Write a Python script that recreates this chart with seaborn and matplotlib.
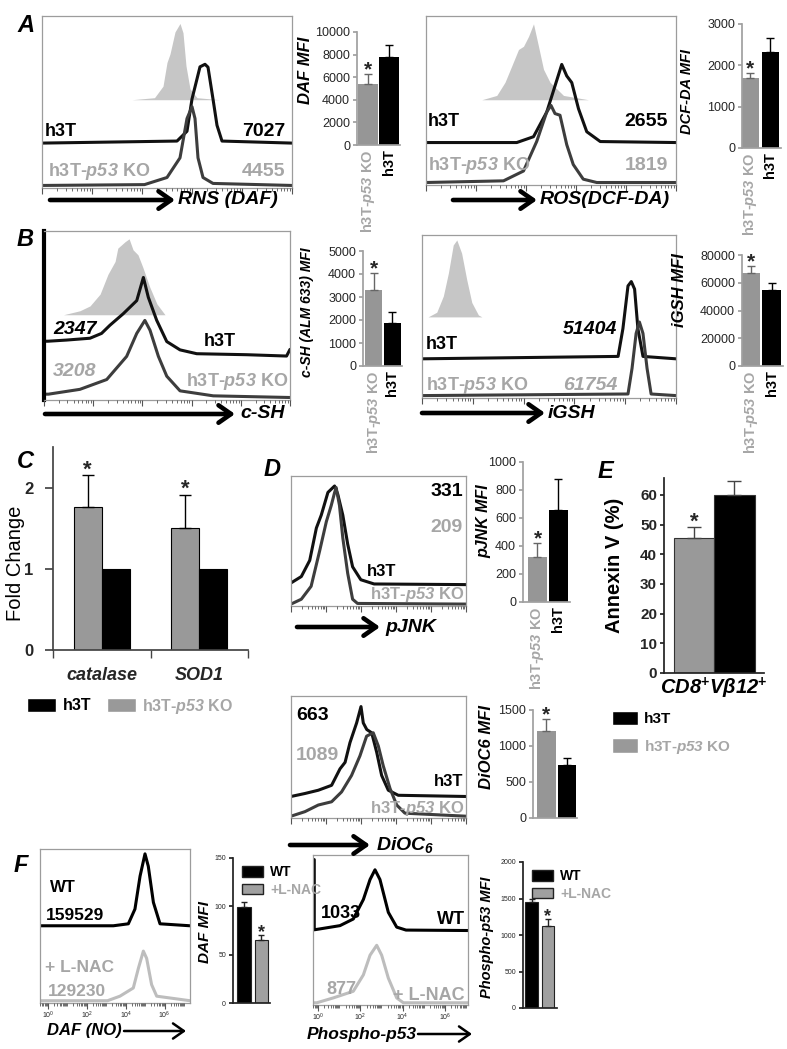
import numpy as np
import pandas as pd
import matplotlib.pyplot as plt
import seaborn as sns
from matplotlib.patches import FancyArrowPatch, Patch
from matplotlib.ticker import LogLocator, NullFormatter, LogFormatterMathtext

# -----------------------------
# Data
# -----------------------------
ko_label = r'h3T-$\mathbfit{p53}$ KO'
pair = [ko_label, 'h3T']

# MFI bar charts: mean and top of the error bar, order = [p53 KO, h3T]
daf_mfi, daf_top = [5370, 7760], [6280, 8850]
dcf_mfi, dcf_top = [1700, 2330], [1820, 2650]
csh_mfi, csh_top = [3300, 1860], [4030, 2360]
igsh_mfi, igsh_top = [66800, 54800], [72000, 60000]
pjnk_mfi, pjnk_top = [324, 657], [419, 876]
dioc_mfi, dioc_top = [1213, 736], [1371, 829]

# panel C
genes = ['catalase', 'SOD1']
fold_ko = [1.76, 1.50]
fold_ko_top = [2.15, 1.91]
fold_h3t = [1.0, 1.0]

# panel E
annexin = [45.4, 60.0]
annexin_top = [49.3, 64.8]

# panel F bars, order = [WT, +L-NAC]
nac_groups = ['WT', '+L-NAC']
daf_nac, daf_nac_top = [99, 65.5], [105, 70]
pp53_nac, pp53_nac_top = [1448, 1127], [1489, 1215]

# log axis decades labelled under the panel F histograms
decade_ticks = [1, 1e2, 1e4, 1e6]

# histogram traces: x = place on the log axis (% of box), y = height (% of box)
rns_iso_x = [36, 45, 48.4, 50, 51.2, 53.2, 55.2, 56.4, 57.6, 59.2, 62, 71]
rns_iso_y = [0, 1.2, 8, 22, 27, 40, 45, 39.5, 20, 6.4, 1.2, 0]
rns_h3t_x = [0, 54, 58, 60, 63.2, 65.2, 66.4, 68.4, 70, 72, 100]
rns_h3t_y = [0, 1.2, 7, 26, 45, 46.5, 44.8, 26, 10.5, 1.2, 0]
rns_ko_x = [0, 41, 50, 55.2, 58, 60, 61.2, 62.4, 64.4, 68.4, 100]
rns_ko_y = [0, 0.5, 4.7, 16.3, 39.5, 46.5, 39.5, 16.3, 4.7, 1.2, 0]

ros_iso_x = [22.3, 28.3, 31.6, 34.3, 37, 39, 41, 43, 45, 47, 49.6, 55, 65]
ros_iso_y = [0, 2.6, 10.5, 20.3, 30.2, 32.1, 38, 45.6, 32.1, 18.3, 10.5, 2.6, 0]
ros_h3t_x = [0, 36.3, 43, 48.3, 51.6, 54.3, 56.3, 58.3, 61, 64.3, 69.7, 100]
ros_h3t_y = [0, 0, 3.5, 18.3, 34, 46.9, 40, 36, 20.3, 6.5, 0.6, 0]
ros_ko_x = [0, 31, 39, 44.3, 48.3, 50, 51.6, 53.6, 56.3, 58.9, 62.9, 68.3, 100]
ros_ko_y = [0, 1, 6.9, 24.7, 42.4, 46.3, 41.4, 40.4, 22.7, 10.8, 2, 0, 0]

csh_iso_x = [7.9, 14.6, 18.7, 22.8, 26, 28.9, 30, 32.9, 34.6, 36.2, 38.2, 40.2, 43, 45.9, 49.2]
csh_iso_y = [0, 2.4, 5.3, 12.4, 24.3, 32, 40, 43.8, 45.6, 39, 36, 28.4, 16.6, 6.5, 0]
csh_h3t_x = [0.5, 1.6, 9.2, 18.7, 23.4, 26.8, 32.2, 37.7, 40.4, 42.4, 45.8, 49.9, 55.3, 62.1, 82.4, 98.6, 100]
csh_h3t_y = [8.9, 8.9, 9.6, 10.7, 13.6, 18.5, 25.4, 33.3, 47.2, 35.3, 21.5, 8.7, 3.7, 1.4, 0.8, 0, 4]
csh_ko_x = [0.5, 1.8, 14.6, 25.5, 33.6, 37.7, 41, 43.1, 46.5, 49.9, 55.3, 68.8, 100]
csh_ko_y = [2, 2, 4.9, 10.8, 24.7, 38.5, 46.3, 40.4, 24.7, 12.8, 4, 1, 0]

igsh_iso_x = [2.4, 5.8, 8.4, 10.4, 12.3, 13.7, 15.6, 17.6, 19.6, 22.2, 23.6]
igsh_iso_y = [0, 2.9, 13, 27.4, 44.8, 47.9, 39.7, 23.3, 9, 1.2, 0]
igsh_h3t_x = [0, 77.2, 79.1, 81.1, 82.4, 83.7, 85, 87, 100]
igsh_h3t_y = [0, 1.5, 18.8, 45.4, 48.1, 43.4, 18.8, 1.5, 0]
igsh_ko_x = [0, 81.1, 82.7, 84.3, 85.6, 87, 88.6, 90.2, 100]
igsh_ko_y = [0, 1, 17, 38.7, 45.8, 38.7, 17, 1, 0]

pjnk_h3t_x = [0, 5.9, 10.7, 14.5, 17.3, 21.1, 23, 24.9, 26.7, 29.6, 32.4, 35.2, 39.9, 47.5, 100]
pjnk_h3t_y = [1.3, 6.3, 18.9, 44.2, 54.3, 72, 74.5, 77, 70.7, 54.3, 31.6, 13.9, 3.8, 0.5, 0]
pjnk_ko_x = [0, 5.9, 11.5, 16.4, 20.2, 23, 24.9, 25.8, 27.7, 29.6, 32.4, 35.2, 38, 100]
pjnk_ko_y = [0, 3.8, 13.9, 41.7, 64.4, 77, 87, 91, 77, 51.7, 24, 3.8, 0.5, 0]

dioc_h3t_x = [0, 8, 15.6, 23.2, 28, 30.9, 33.7, 37.5, 40, 41.3, 43.3, 46.1, 49, 51.8, 55.6, 61.3, 100]
dioc_h3t_y = [0, 2.5, 5.2, 9.3, 23, 28.4, 44.8, 61.2, 74.8, 61.2, 55.7, 53, 36.6, 17.5, 5.2, 1, 0]
dioc_ko_x = [0, 8, 15.6, 23.2, 28.9, 34.6, 39.4, 43.2, 47, 49.9, 52.7, 56.6, 60.4, 65.1, 100]
dioc_ko_y = [0, 3.8, 9.3, 12, 20.2, 33.9, 50.2, 66.6, 69.4, 58.4, 42, 23, 9.3, 2.5, 0]

fdaf_wt_x = [0, 48.9, 58.9, 63.3, 66.7, 70, 72.2, 75.6, 80, 100]
fdaf_wt_y = [0, 0, 1.3, 11, 32.7, 47.4, 39.2, 15.4, 1.3, 0]
fdaf_nac_x = [0, 45, 53.3, 62.2, 65.6, 68.9, 71.1, 74.4, 77.8, 100]
fdaf_nac_y = [0, 0, 3, 8.4, 21.4, 32.7, 27.9, 10.6, 3, 0]

fp53_wt_x = [0.8, 0.8, 4.5, 17.4, 26, 32.5, 36.8, 40, 43.2, 48.6, 54, 60, 100]
fp53_wt_y = [48, 0.5, 1.1, 3.3, 7.8, 21, 34.5, 41.1, 34.5, 12.3, 2.3, 0.3, 0]
fp53_nac_x = [0, 2.4, 13.1, 26, 32.5, 36.8, 41.1, 44.3, 48.6, 54, 58.3, 100]
fp53_nac_y = [0, 0, 3.3, 7.8, 18.9, 32.2, 38.9, 32.2, 16.7, 3.3, 0, 0]

# -----------------------------
# Style
# -----------------------------
W, H = 787, 1049
GRAY_TXT = '#a6a6a6'
BAR_GRAY = '#969696'
ISO = '#c6c6c6'
KO_LINE = '#3d3d3d'

sns.set_theme(style='white')
plt.rcParams['font.family'] = ['Liberation Sans', 'DejaVu Sans']
plt.rcParams.update({
    'mathtext.fontset': 'custom',
    'mathtext.rm': 'Liberation Sans',
    'mathtext.it': 'Liberation Sans:italic',
    'mathtext.bf': 'Liberation Sans:bold',
    'mathtext.bfit': 'Liberation Sans:italic:bold',
})

fig = plt.figure(figsize=(W / 100, H / 100), dpi=100)


def box(x0, y0, x1, y1):
    return [x0 / W, 1 - y1 / H, (x1 - x0) / W, (y1 - y0) / H]


def label(x, y, s, size=13, color='black', style='normal', ha='left', rot=0, weight='bold'):
    fig.text(x / W, 1 - y / H, s, fontsize=size, color=color, fontweight=weight,
             fontstyle=style, ha=ha, va='center', rotation=rot)


def arrow(x0, x1, y, lw=3.3, scale=15):
    fig.add_artist(FancyArrowPatch((x0 / W, 1 - y / H), (x1 / W, 1 - y / H),
                                   transform=fig.transFigure, shrinkA=0, shrinkB=0,
                                   arrowstyle='->,head_length=0.6,head_width=0.42',
                                   mutation_scale=scale, lw=lw, color='black'))


def histogram(rect, traces, fill=None, xlim=(1, 1e5), decades=False, thick_left=False):
    ax = fig.add_axes(box(*rect))
    if fill is not None:
        fx, fy, fbase = fill
        ax.fill_between(fx, fbase, np.add(fy, fbase), color=ISO, lw=0)
    for x, y, base, color in traces:
        sns.lineplot(x=x, y=np.add(y, base), color=color, linewidth=2.2,
                     sort=False, estimator=None, ax=ax)
    ax.set(xlim=(0, 100), ylim=(-1.5, 100), xticks=[], yticks=[], xlabel='', ylabel='')
    for s in ax.spines.values():
        s.set_color('#9c9c9c')
        s.set_linewidth(0.9)
    if thick_left:
        ax.spines['left'].set_color('black')
        ax.spines['left'].set_linewidth(3)
    tw = ax.twiny()
    tw.set_xscale('log')
    tw.set_xlim(*xlim)
    tw.xaxis.tick_bottom()
    for s in tw.spines.values():
        s.set_visible(False)
    if decades:
        tw.set_xticks(decade_ticks)
        tw.xaxis.set_major_formatter(LogFormatterMathtext(base=10))
    else:
        tw.xaxis.set_major_locator(LogLocator(base=10))
        tw.xaxis.set_major_formatter(NullFormatter())
    tw.xaxis.set_minor_locator(LogLocator(base=10, subs=np.arange(1, 10), numticks=30))
    tw.xaxis.set_minor_formatter(NullFormatter())
    tw.set_xlim(*xlim)
    tw.tick_params(axis='x', which='major', length=4, width=0.8, color='#555555', labelsize=5,
                   pad=1, bottom=True, top=False, labelbottom=decades, labeltop=False)
    tw.tick_params(axis='x', which='minor', length=2, width=0.6, color='#555555',
                   bottom=True, top=False)
    return ax


def mfi_bars(rect, vals, tops, xlim, ymax, step, names=pair, colors=(BAR_GRAY, 'black'),
             width=0.9, xlabels=True, tick_fs=9, spine='#a0a0a0', edge=None,
             err_colors=('#666666', 'black'), cap=3, star=0, star_fs=15, tick_weight='normal'):
    ax = fig.add_axes(box(*rect))
    df = pd.DataFrame({'group': names, 'mfi': vals})
    sns.barplot(data=df, x='group', y='mfi', hue='group', palette=list(colors), width=width,
                errorbar=None, legend=False, saturation=1, edgecolor=edge or 'none',
                linewidth=0.8 if edge else 0, ax=ax)
    pos = [p.get_x() + p.get_width() / 2 for p in ax.patches]
    for p, v, t, c in zip(pos, vals, tops, err_colors):
        ax.errorbar([p], [v], yerr=[[0], [t - v]], fmt='none', ecolor=c, elinewidth=1,
                    capsize=cap, capthick=1)
    if star is not None:
        ax.annotate('*', xy=(pos[star], tops[star]), xytext=(0, -1), textcoords='offset points',
                    ha='center', va='baseline', fontsize=star_fs, fontweight='bold',
                    annotation_clip=False)
    ax.set(xlim=xlim, ylim=(0, ymax), xlabel='', ylabel='')
    ax.set_yticks(np.arange(0, ymax + 1, step))
    sns.despine(ax=ax)
    ax.spines['left'].set_color(spine)
    ax.spines['bottom'].set_color(spine)
    ax.tick_params(axis='y', left=True, length=3, color=spine, labelsize=tick_fs, pad=2)
    for t in ax.get_yticklabels():
        t.set_fontweight(tick_weight)
    if xlabels:
        ax.set_xticks(range(len(names)))
        ax.set_xticklabels(names, rotation=90, fontsize=10.5, fontweight='bold')
        ax.tick_params(axis='x', length=0, pad=3)
        for t, c in zip(ax.get_xticklabels(), [GRAY_TXT, 'black']):
            t.set_color(c)
    else:
        ax.set_xticks([])
    return ax


# -----------------------------
# Panel A
# -----------------------------
histogram((42, 16, 292, 188),
          [(rns_h3t_x, rns_h3t_y, 25, '#111111'), (rns_ko_x, rns_ko_y, 0, KO_LINE)],
          fill=(rns_iso_x, rns_iso_y, 50.6))
label(45, 132, 'h3T')
label(285, 132, '7027', ha='right', size=14)
label(48, 172, ko_label, color=GRAY_TXT)
label(285, 172, '4455', color=GRAY_TXT, ha='right', size=14)
arrow(50, 175, 200)
label(178, 200, 'RNS (DAF)', size=14, style='italic')
mfi_bars((357, 32, 400, 145), daf_mfi, daf_top, (-0.51, 1.49), 10000, 2000, width=0.93)
label(306, 70, 'DAF MFI', size=12, style='italic', ha='center', rot=90)

histogram((426, 16, 676, 185),
          [(ros_h3t_x, ros_h3t_y, 24, '#111111'), (ros_ko_x, ros_ko_y, 0, KO_LINE)],
          fill=(ros_iso_x, ros_iso_y, 49.7))
label(428, 122, 'h3T')
label(668, 122, '2655', ha='right', size=14)
label(428, 165, ko_label, color=GRAY_TXT)
label(668, 166, '1819', color=GRAY_TXT, ha='right', size=14)
arrow(453, 537, 200)
label(540, 200, 'ROS(DCF-DA)', size=14, style='italic')
mfi_bars((742, 24, 781, 148), dcf_mfi, dcf_top, (-0.4, 1.55), 3000, 1000, width=0.85)
label(687, 92, 'DCF-DA MFI', size=10.5, style='italic', ha='center', rot=90)

# -----------------------------
# Panel B
# -----------------------------
histogram((44, 231, 290, 400),
          [(csh_h3t_x, csh_h3t_y, 24.9, '#111111'), (csh_ko_x, csh_ko_y, 0, KO_LINE)],
          fill=(csh_iso_x, csh_iso_y, 49.7), thick_left=True)
label(53, 329, '2347', style='italic', size=14)
label(53, 372, '3208', color=GRAY_TXT, style='italic', size=14)
label(220, 342, 'h3T', ha='center')
label(288, 382, ko_label, color=GRAY_TXT, ha='right')
arrow(45, 235, 414)
label(240, 414, 'c-SH', size=14, style='italic')
mfi_bars((363, 251, 402, 366), csh_mfi, csh_top, (-0.57, 1.54), 5000, 1000, width=0.92)
label(307, 312, 'c-SH (ALM 633) MFI', size=10, style='italic', ha='center', rot=90)

histogram((422, 235, 676, 398),
          [(igsh_h3t_x, igsh_h3t_y, 22.9, '#111111'), (igsh_ko_x, igsh_ko_y, 0, KO_LINE)],
          fill=(igsh_iso_x, igsh_iso_y, 49))
label(617, 330, '51404', style='italic', ha='right', size=14)
label(426, 345, 'h3T')
label(426, 385, ko_label, color=GRAY_TXT)
label(617, 386, '61754', color=GRAY_TXT, style='italic', ha='right', size=14)
arrow(422, 545, 413)
label(548, 413, 'iGSH', size=14, style='italic')
mfi_bars((742, 255, 783, 366), igsh_mfi, igsh_top, (-0.43, 1.55), 80000, 20000, width=0.9)
label(680, 290, 'iGSH MFI', size=12, style='italic', ha='center', rot=90)

# -----------------------------
# Panel C
# -----------------------------
axc = fig.add_axes(box(53, 447, 248, 650))
c_df = pd.DataFrame({'gene': genes * 2,
                     'group': [ko_label] * 2 + ['h3T'] * 2,
                     'fold': fold_ko + fold_h3t})
sns.barplot(data=c_df, x='gene', y='fold', hue='group', hue_order=[ko_label, 'h3T'],
            palette=['#999999', 'black'], width=0.575, errorbar=None, legend=False,
            saturation=1, edgecolor='black', linewidth=0.8, ax=axc)
ko_pos = [p.get_x() + p.get_width() / 2 for p in axc.containers[0]]
axc.errorbar(ko_pos, fold_ko, yerr=[np.zeros(2), np.subtract(fold_ko_top, fold_ko)],
             fmt='none', ecolor='black', elinewidth=1, capsize=4, capthick=1)
for p, t in zip(ko_pos, fold_ko_top):
    axc.annotate('*', xy=(p, t), xytext=(0, 0), textcoords='offset points', ha='center',
                 va='baseline', fontsize=16, fontweight='bold', annotation_clip=False)
axc.set(xlim=(-0.5, 1.5), ylim=(0, 2.5), xlabel='', ylabel='')
axc.set_yticks([0, 1, 2])
axc.set_xticks([0, 1])
axc.set_xticklabels(genes, fontsize=13, fontweight='bold', fontstyle='italic')
axc.set_xticks([-0.5, 0.5, 1.5], minor=True)
sns.despine(ax=axc)
for s in ('left', 'bottom'):
    axc.spines[s].set_color('#444444')
axc.tick_params(axis='x', which='major', length=0, pad=12)
axc.tick_params(axis='x', which='minor', bottom=True, length=6, color='#444444')
axc.tick_params(axis='y', left=True, length=6, color='#444444', labelsize=12, pad=8)
for t in axc.get_yticklabels():
    t.set_fontweight('bold')
label(16, 563, 'Fold Change', size=14.5, weight='normal', ha='center', rot=90)
leg_c = fig.legend(handles=[Patch(facecolor='black'), Patch(facecolor='#999999')],
                   labels=['h3T', ko_label], loc='center left', ncol=2, frameon=False,
                   bbox_to_anchor=(13 / W, 1 - 706 / H), fontsize=11.5, handlelength=1.8,
                   handleheight=1.0, handletextpad=0.4, columnspacing=1.0)
for t, c in zip(leg_c.get_texts(), ['black', GRAY_TXT]):
    t.set_color(c)
    t.set_fontweight('bold')

# -----------------------------
# Panel D
# -----------------------------
histogram((291, 476, 466, 606),
          [(pjnk_h3t_x, pjnk_h3t_y, 15.2, '#111111'), (pjnk_ko_x, pjnk_ko_y, 0, KO_LINE)])
label(463, 492, '331', ha='right', size=14)
label(463, 527, '209', color=GRAY_TXT, ha='right', size=14)
label(382, 571, 'h3T', ha='center', size=12)
label(465, 594, ko_label, color=GRAY_TXT, ha='right', size=12)
arrow(297, 380, 627)
label(385, 627, 'pJNK', size=14, style='italic')
mfi_bars((523, 462, 570, 602), pjnk_mfi, pjnk_top, (-0.69, 1.55), 1000, 200, width=0.9)
label(484, 521, 'pJNK MFI', size=11.5, style='italic', ha='center', rot=90)

histogram((291, 696, 466, 818),
          [(dioc_h3t_x, dioc_h3t_y, 16.4, '#111111'), (dioc_ko_x, dioc_ko_y, 0, KO_LINE)])
label(296, 716, '663', size=14)
label(296, 755, '1089', color=GRAY_TXT, size=14)
label(463, 782, 'h3T', ha='right', size=12)
label(465, 808, ko_label, color=GRAY_TXT, ha='right', size=12)
arrow(290, 370, 845)
label(376, 845, r'DiOC$_{\mathbfit{6}}$', size=14, style='italic')
mfi_bars((533, 710, 577, 818), dioc_mfi, dioc_top, (-0.66, 1.5), 1500, 500, width=0.9,
         xlabels=False)
label(487, 747, 'DiOC6 MFI', size=12, style='italic', ha='center', rot=90)

# -----------------------------
# Panel E
# -----------------------------
mfi_bars((664, 478, 764, 673), annexin, annexin_top, (-0.74, 1.73), 65.7, 10,
         colors=('#999999', 'black'), width=1.0, xlabels=False, tick_fs=11, spine='#222222',
         edge='#333333', err_colors=('#444444', '#444444'), cap=5, star_fs=16,
         tick_weight='bold')
label(615, 565, 'Annexin V (%)', size=14.5, ha='center', rot=90)
label(714, 688, r'CD8$^{\mathbf{+}}$V$\mathbfit{\beta}$12$^{\mathbf{+}}$', size=14.5,
      style='italic', ha='center')
leg_e = fig.legend(handles=[Patch(facecolor='black'), Patch(facecolor='#999999')],
                   labels=['h3T', ko_label], loc='upper left', frameon=False,
                   bbox_to_anchor=(598 / W, 1 - 697 / H), fontsize=11, handlelength=1.7,
                   handleheight=1.1, handletextpad=0.4, labelspacing=0.75)
for t, c in zip(leg_e.get_texts(), ['black', GRAY_TXT]):
    t.set_color(c)
    t.set_fontweight('bold')

# -----------------------------
# Panel F
# -----------------------------
histogram((40, 849, 190, 1003),
          [(fdaf_wt_x, fdaf_wt_y, 49.4, 'black'), (fdaf_nac_x, fdaf_nac_y, 0, '#bdbdbd')],
          xlim=(10 ** -0.4, 10 ** 7.3), decades=True)
label(50, 888, 'WT', size=12)
label(46, 915, '159529', size=12.5)
label(45, 968, '+ L-NAC', color=GRAY_TXT, size=12.5)
label(48, 992, '129230', color=GRAY_TXT, size=12.5)
label(47, 1031, 'DAF (NO)', size=12, style='italic')
arrow(124, 186, 1031, lw=1.8, scale=13)

histogram((313, 855, 468, 1005),
          [(fp53_wt_x, fp53_wt_y, 48.9, 'black'), (fp53_nac_x, fp53_nac_y, 0, '#bdbdbd')],
          xlim=(10 ** -0.24, 10 ** 7.1), decades=True)
label(321, 913, '1033', size=13)
label(326, 990, '877', color=GRAY_TXT, size=13)
label(465, 920, 'WT', ha='right', size=13)
label(465, 995, '+ L-NAC', color=GRAY_TXT, ha='right', size=13)
label(307, 1034, 'Phospho-p53', size=12.5, style='italic')
arrow(418, 472, 1034, lw=1.8, scale=13)

for rect, vals, tops, xl, ymax, step, lx, ly, text, lab_fs in [
        ((233, 858, 270, 1003), daf_nac, daf_nac_top, (-0.63, 1.49), 150, 50, 205, 932,
         'DAF MFI', 11),
        ((523, 862, 557, 1008), pp53_nac, pp53_nac_top, (-0.52, 1.55), 2000, 500, 487, 937,
         'Phospho-p53 MFI', 10.5)]:
    mfi_bars(rect, vals, tops, xl, ymax, step, names=nac_groups, colors=('black', '#a0a0a0'),
             width=0.78, xlabels=False, tick_fs=5, spine='#222222', edge='#222222',
             err_colors=('#222222', '#222222'), cap=2.5, star=1, star_fs=13)
    label(lx, ly, text, size=lab_fs, style='italic', ha='center', rot=90)
    leg = fig.legend(handles=[Patch(facecolor='black', edgecolor='#222222'),
                              Patch(facecolor='#a0a0a0', edgecolor='#222222')],
                     labels=nac_groups, loc='upper left', frameon=False,
                     bbox_to_anchor=((rect[0] + 1) / W, 1 - (rect[1] - 1) / H), fontsize=10,
                     handlelength=1.5, handleheight=0.8, handletextpad=0.5,
                     labelspacing=0.25, borderpad=0.1)
    for t, c in zip(leg.get_texts(), ['black', GRAY_TXT]):
        t.set_color(c)
        t.set_fontweight('bold')

# -----------------------------
# Panel letters
# -----------------------------
for x, y, s in [(26, 26, 'A'), (25, 239, 'B'), (25, 462, 'C'), (272, 469, 'D'),
                (605, 472, 'E'), (21, 865, 'F')]:
    label(x, y, s, size=17, style='italic', ha='center')

fig.savefig('out.png', dpi=100)
plt.close(fig)
